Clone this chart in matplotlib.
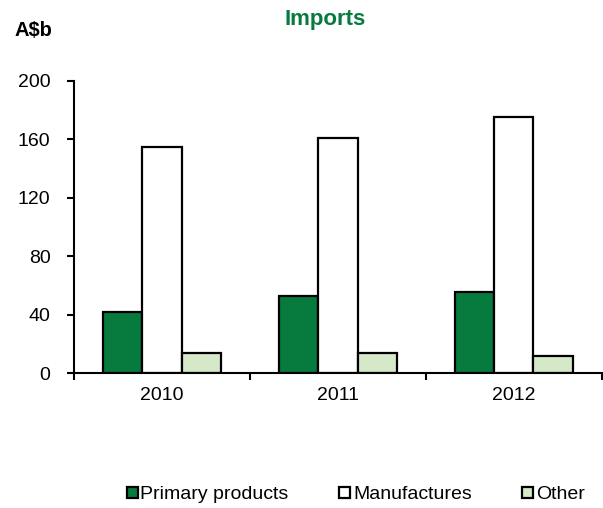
import numpy as np
import matplotlib
matplotlib.use("Agg")
import matplotlib.pyplot as plt
from matplotlib.patches import Patch

years = ["2010", "2011", "2012"]
primary = [42, 52.5, 55.5]
manufactures = [155, 161, 175]
other = [13.5, 14, 11.5]

plt.rcParams['font.family'] = ['Liberation Sans', 'DejaVu Sans']

dark_green = "#077A3E"
light_green = "#D5E8C8"

fig = plt.figure(figsize=(6.03, 5.08), dpi=100)
ax = fig.add_axes([0.1227, 0.2657, 0.8753, 0.5749])

x = np.arange(len(years))
w = 0.223
kw = dict(edgecolor="black", linewidth=1.6)
ax.bar(x - w, primary, w, color=dark_green, label="Primary products", **kw)
ax.bar(x, manufactures, w, color="white", label="Manufactures", **kw)
ax.bar(x + w, other, w, color=light_green, label="Other", **kw)

ax.set_xlim(-0.5, 2.5)
ax.set_ylim(0, 200)
ax.set_yticks(np.arange(0, 201, 40))
ax.set_xticks(x)
ax.set_xticklabels(years)
ax.set_xticks([-0.5, 0.5, 1.5, 2.5], minor=True)
ax.tick_params(axis="x", which="major", length=0, pad=10, labelsize=14)
ax.tick_params(axis="x", which="minor", length=5, width=1.5, direction="out")
ax.tick_params(axis="y", length=5, width=1.5, direction="out", pad=12, labelsize=14)

for s in ["top", "right"]:
    ax.spines[s].set_visible(False)
for s in ["left", "bottom"]:
    ax.spines[s].set_linewidth(1.5)

fig.text(0.54, 0.962, "Imports", color=dark_green, fontsize=16, fontweight="bold",
         ha="center", va="center")
fig.text(0.055, 0.94, "A$b", fontsize=14.5, fontweight="bold", ha="center", va="center")

handles = [Patch(facecolor=dark_green, edgecolor="black", linewidth=1.6),
           Patch(facecolor="white", edgecolor="black", linewidth=1.6),
           Patch(facecolor=light_green, edgecolor="black", linewidth=1.6)]
fig.legend(handles, ["Primary products", "Manufactures", "Other"],
           loc="center", bbox_to_anchor=(0.59, 0.026), ncol=3, frameon=False,
           fontsize=14, handlelength=0.55, handleheight=0.55, handletextpad=0.15,
           columnspacing=2.6)

fig.savefig("out.png", dpi=100)
